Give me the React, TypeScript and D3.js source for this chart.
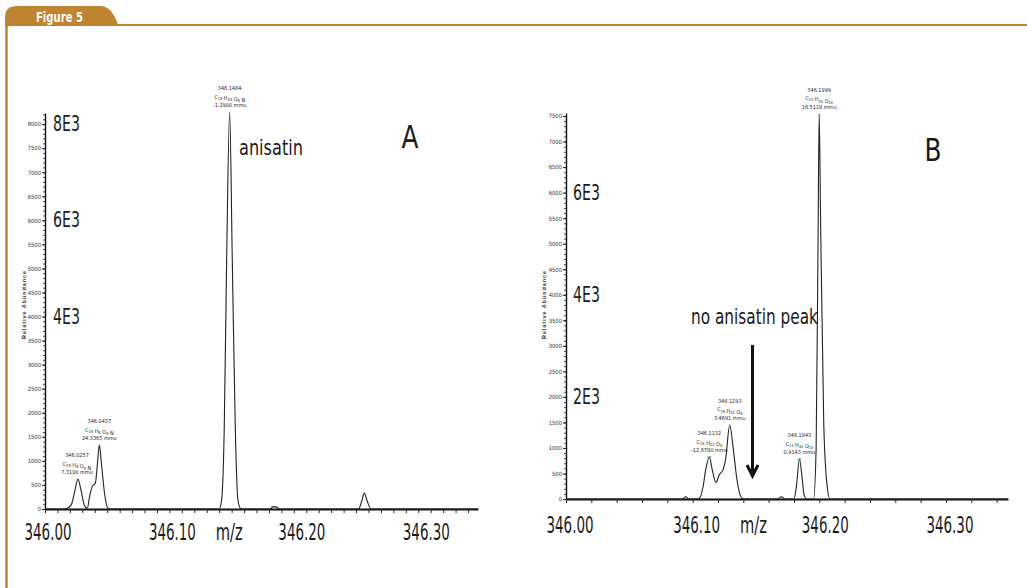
import React, { useEffect, useRef } from "react";
import * as d3 from "d3";

const W = 1027;
const H = 588;
const FRAME = "#c0832f";
const NARROW = "'Liberation Sans Narrow', 'DejaVu Sans Condensed', Arial, sans-serif";

// profile spectra: [m/z, relative abundance]
const traceA: [number, number][] = [
  [346.0, 0], [346.016, 0], [346.019, 30], [346.0215, 110], [346.024, 380], [346.0265, 620],
  [346.029, 380], [346.0315, 90], [346.034, 15], [346.036, 280], [346.038, 470], [346.0405, 540],
  [346.042, 900], [346.0437, 1330], [346.0455, 900], [346.048, 300], [346.0505, 20], [346.053, 0],
  [346.14, 0], [346.142, 200], [346.144, 1600], [346.146, 5200], [346.1484, 8250], [346.1505, 5200],
  [346.153, 1600], [346.155, 200], [346.1575, 0],
  [346.181, 0], [346.183, 45], [346.186, 45], [346.188, 0],
  [346.252, 0], [346.2545, 160], [346.2566, 330], [346.259, 160], [346.262, 0], [346.348, 0],
];

const traceB: [number, number][] = [
  [346.0, 0], [346.092, 0], [346.0945, 45], [346.097, 0], [346.104, 0], [346.106, 40],
  [346.1082, 240], [346.1105, 600], [346.1132, 822], [346.1155, 570], [346.1185, 320],
  [346.1209, 470], [346.124, 570], [346.126, 780], [346.1293, 1450], [346.132, 1000],
  [346.135, 380], [346.1375, 80], [346.14, 0],
  [346.167, 0], [346.17, 45], [346.173, 0],
  [346.18, 0], [346.182, 260], [346.1843, 783], [346.1865, 400], [346.188, 80], [346.19, 0],
  [346.1955, 0], [346.1975, 1000], [346.199, 5000], [346.1999, 7550], [346.201, 5500],
  [346.2035, 1500], [346.206, 300], [346.2085, 0], [346.349, 0],
];

// peak annotations: label centre m/z, peak height, mass, formula, error
const labelsA = [
  { at: 346.0257, h: 620, mass: "346.0257", formula: "C15 H8 O9 N", err: "7.3100 mmu" },
  { at: 346.0437, h: 1330, mass: "346.0437", formula: "C15 H8 O9 N", err: "24.3365 mmu" },
  { at: 346.1484, h: 8250, mass: "346.1484", formula: "C15 H24 O8 N", err: "-1.2900 mmu" },
];
const labelsB = [
  { at: 346.1132, h: 822, mass: "346.1132", formula: "C15 H22 O9", err: "-12.6780 mmu" },
  { at: 346.1293, h: 1450, mass: "346.1293", formula: "C15 H22 O9", err: "3.4691 mmu" },
  { at: 346.1843, h: 783, mass: "346.1843", formula: "C13 H30 O10", err: "0.9143 mmu" },
  { at: 346.1999, h: 7550, mass: "346.1999", formula: "C13 H30 O10", err: "16.5119 mmu" },
];
const centroidsB = [346.1132, 346.1843];

const mzLabels = [346.0, 346.1, 346.2, 346.3];
const sciA = [8000, 6000, 4000];
const sciB = [6000, 4000, 2000];

const panels = [
  {
    key: "A", trace: traceA, labels: labelsA, centroids: [] as number[], sci: sciA,
    x0: 45, x1: 478, xMax: 346.348, yBase: 509, yTop: 113, yMax: 8230, tickMax: 8000,
    xStep: 0.01, nudge: [3, 3, 8, 8], base: 540, titleX: 26, letter: { x: 410, y: 148 },
  },
  {
    key: "B", trace: traceB, labels: labelsB, centroids: centroidsB, sci: sciB,
    x0: 566, x1: 1008, xMax: 346.349, yBase: 499, yTop: 113, yMax: 7560, tickMax: 7500,
    xStep: 0.02, nudge: [4, 4, 6, 4], base: 533, titleX: 546, letter: { x: 933, y: 161 },
  },
];

const App = () => {
  const ref = useRef<SVGSVGElement>(null);

  useEffect(() => {
    const svg = d3.select(ref.current);
    svg.selectAll("*").remove();

    svg.append("rect").attr("width", W).attr("height", H).attr("fill", "#fff");

    // text squeezed horizontally to the width seen in the figure
    const big = (g: any, txt: string, x: number, y: number, size: number, len: number,
      anchor = "start", color = "#1a1a1a", weight = "normal") => {
      const t = g.append("text").attr("x", 0).attr("y", 0).attr("text-anchor", anchor)
        .attr("font-family", NARROW).attr("font-size", size).attr("font-weight", weight)
        .attr("fill", color).text(txt);
      const w = (t.node() as SVGTextElement).getComputedTextLength() || len;
      t.attr("transform", `translate(${x},${y}) scale(${len / w},1)`);
      return t;
    };

    // figure frame
    svg.append("path")
      .attr("d", "M5,26 V17 Q5,6 17,6 H100 Q112,6 118,25 Z")
      .attr("fill", FRAME);
    svg.append("line").attr("x1", 5).attr("x2", W).attr("y1", 25).attr("y2", 25)
      .attr("stroke", FRAME).attr("stroke-width", 2.2);
    svg.append("line").attr("x1", 6.5).attr("x2", 6.5).attr("y1", 24).attr("y2", H)
      .attr("stroke", FRAME).attr("stroke-width", 2.5);
    big(svg, "Figure 5", 36, 21.5, 14, 47, "start", "#fff", "bold");

    panels.forEach(p => {
      const g = svg.append("g");
      const x = d3.scaleLinear().domain([346.0, p.xMax]).range([p.x0, p.x1]);
      const y = d3.scaleLinear().domain([0, p.yMax]).range([p.yBase, p.yTop]);

      // y axis: minor then major ticks
      g.append("g").attr("transform", `translate(${p.x0},0)`)
        .call(d3.axisLeft(y).tickValues(d3.range(0, p.yMax, 100)).tickSize(2).tickSizeOuter(0).tickFormat(() => ""))
        .call(a => a.select(".domain").remove())
        .call(a => a.selectAll("line").attr("stroke", "#222").attr("stroke-width", 0.8));
      const ya = g.append("g").attr("transform", `translate(${p.x0},0)`)
        .call(d3.axisLeft(y).tickValues(d3.range(0, p.tickMax + 1, 500)).tickSize(3).tickPadding(1).tickSizeOuter(0).tickFormat(d3.format("d")));
      ya.select(".domain").attr("stroke", "#111").attr("stroke-width", 1.4);
      ya.selectAll("line").attr("stroke", "#222");
      ya.selectAll("text").attr("font-family", NARROW).attr("font-size", 5.8).attr("fill", "#333");

      g.append("text")
        .attr("transform", `translate(${p.titleX},305) rotate(-90)`)
        .attr("text-anchor", "middle").attr("font-family", "'Liberation Sans', Arial, sans-serif")
        .attr("font-weight", "bold").attr("font-size", 5.5).attr("fill", "#333")
        .attr("textLength", 68).attr("lengthAdjust", "spacing")
        .text("Relative Abundance");

      // x axis
      const nT = Math.floor((p.xMax - 346) / p.xStep + 1e-6);
      const xa = g.append("g").attr("transform", `translate(0,${p.yBase})`)
        .call(d3.axisBottom(x).tickValues(d3.range(0, nT + 1).map(i => 346 + i * p.xStep)).tickSize(4).tickSizeOuter(0).tickFormat(() => ""));
      xa.select(".domain").attr("stroke", "#111").attr("stroke-width", 1.8);
      xa.selectAll("line").attr("stroke", "#222");

      // spectrum
      const line = d3.line<[number, number]>()
        .x(d => x(d[0])).y(d => y(d[1]))
        .curve(d3.curveMonotoneX);
      g.append("path").datum(p.trace).attr("d", line)
        .attr("fill", "none").attr("stroke", "#222").attr("stroke-width", 1.1);

      // centroid marks
      p.centroids.forEach(c => {
        const pt = p.trace.find(d => Math.abs(d[0] - c) < 1e-6)!;
        g.append("line").attr("x1", x(c) - 2).attr("x2", x(c) + 2)
          .attr("y1", y(pt[1])).attr("y2", y(pt[1]))
          .attr("stroke", "#3cbf3c").attr("stroke-width", 1.2);
      });

      // peak labels
      p.labels.forEach(l => {
        const cx = x(l.at);
        const yb = y(l.h) - 5;
        const t = (yy: number) => g.append("text").attr("x", cx).attr("y", yy)
          .attr("text-anchor", "middle").attr("font-family", NARROW)
          .attr("font-size", 5.5).attr("fill", "#222");
        t(yb - 17).text(l.mass);
        const f = t(yb - 8.5);
        l.formula.split(" ").forEach((tok, i) => {
          const m = tok.match(/^([A-Z][a-z]?)(\d*)$/)!;
          f.append("tspan").text((i ? " " : "") + m[1]);
          if (m[2]) {
            f.append("tspan").attr("dy", 1.3).attr("font-size", 4).text(m[2]);
            f.append("tspan").attr("dy", -1.3).text("");
          }
        });
        t(yb).text(l.err);
      });

      // big overlay labels
      p.sci.forEach(v => big(g, `${v / 1000}E3`, p.x0 + 8 - (p.key === "B" ? 1 : 0), y(v) + 7, 21, 27));
      mzLabels.forEach((v, i) => big(g, v.toFixed(2), x(v) + p.nudge[i], p.base, 23, 47, "middle"));
      big(g, "m/z", x(346.148), p.base, 23, 27, "middle");
      big(g, p.key, p.letter.x, p.letter.y, 32, 17, "middle");
    });

    // annotations
    big(svg, "anisatin", 239, 155, 21, 64);
    big(svg, "no anisatin peak", 691, 324, 21, 127);
    svg.append("line").attr("x1", 752.5).attr("x2", 752.5).attr("y1", 345).attr("y2", 474)
      .attr("stroke", "#111").attr("stroke-width", 3);
    svg.append("path").attr("d", "M747,465 L752.5,476 L758,465")
      .attr("fill", "none").attr("stroke", "#111").attr("stroke-width", 3);
  }, []);

  return (
    <svg ref={ref} width={W} height={H}
      style={{ position: "absolute", left: 0, top: 0, display: "block" }} />
  );
};

export default App;
